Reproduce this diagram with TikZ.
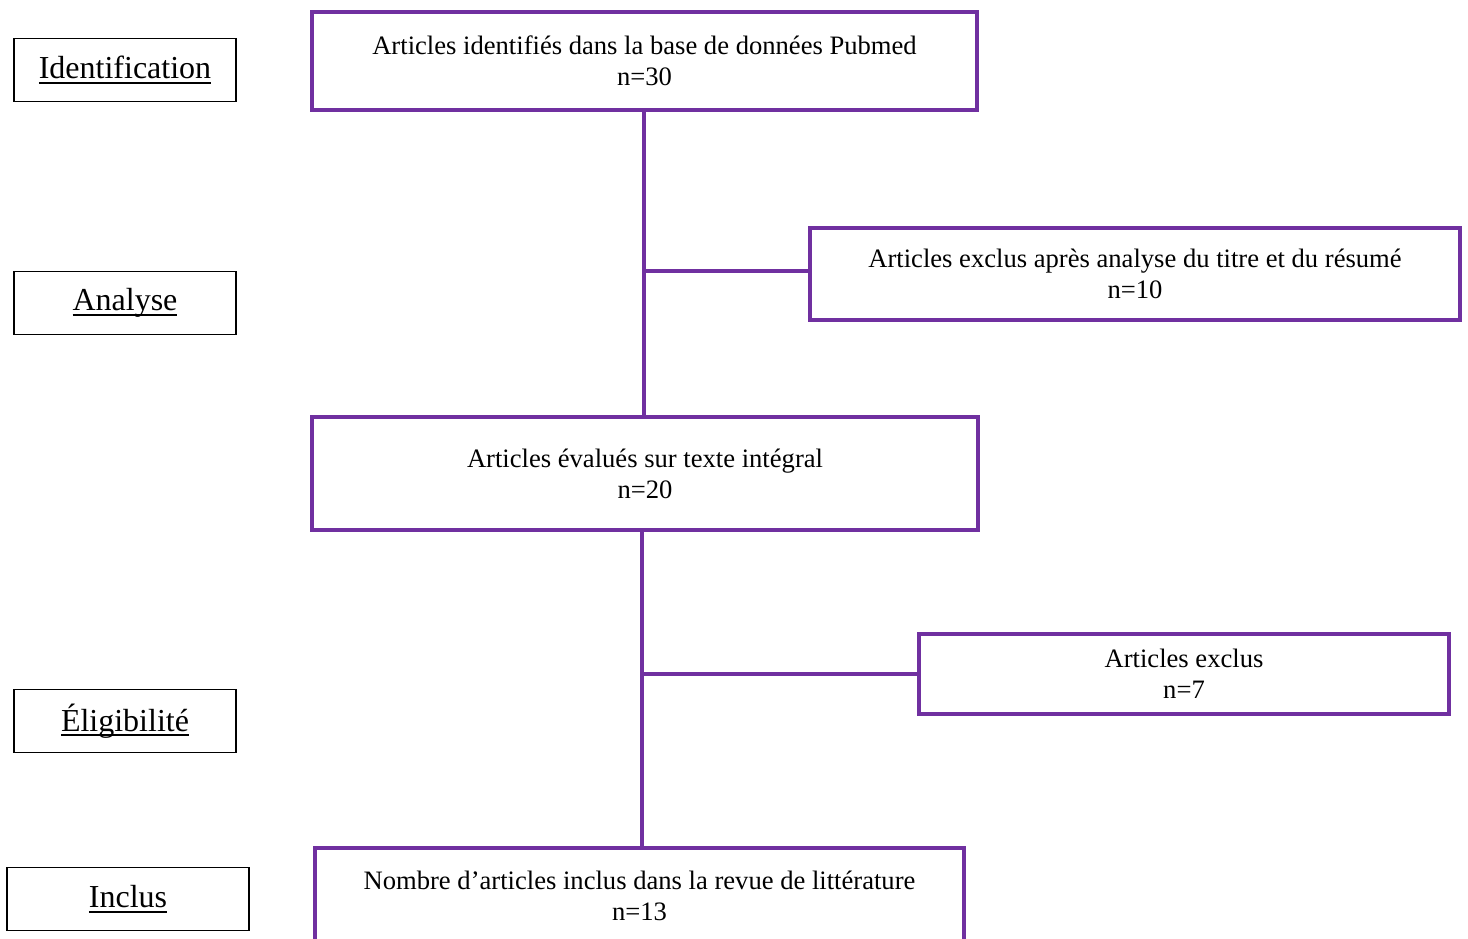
\documentclass[tikz,border=0pt]{standalone}
\usepackage{fontspec}
\setmainfont{Liberation Serif}
\definecolor{vio}{HTML}{7030A0}
\newcommand\myul[1]{\leavevmode\setbox0=\hbox{#1}\rlap{\rule[-5pt]{\wd0}{2pt}}\box0}
\tikzset{
  labbox/.style={draw=black, line width=1.3pt, inner sep=0pt, font=\fontsize{32}{38}\selectfont},
  pbox/.style={draw=vio, line width=3.5pt, inner sep=0pt, align=center, font=\fontsize{26.6}{30.8}\selectfont},
  conn/.style={draw=vio, line width=3.5pt}
}
\begin{document}
\begin{tikzpicture}[x=1pt,y=-1pt]
\useasboundingbox (0,0) rectangle (1468,938);
\clip (0,0) rectangle (1468,938);
% stage labels
\node[labbox, minimum width=222pt, minimum height=63pt] (id) at (125,70) {\myul{Identification}};
\node[labbox, minimum width=222pt, minimum height=63pt] (an) at (125,303) {\raisebox{-2pt}{\myul{Analyse}}};
\node[labbox, minimum width=222pt, minimum height=63pt] (el) at (125,721) {\myul{Éligibilité}};
\node[labbox, minimum width=242pt, minimum height=63pt] (inc) at (128,899) {\raisebox{-1pt}{\myul{Inclus}}};
% flow boxes
\node[pbox, minimum width=665pt, minimum height=98pt] (b1) at (644.5,61) {Articles identifiés dans la base de données Pubmed\\n=30};
\node[pbox, minimum width=650pt, minimum height=92pt] (b2) at (1135,274) {Articles exclus après analyse du titre et du résumé\\n=10};
\node[pbox, minimum width=666pt, minimum height=113pt] (b3) at (645,473.5) {Articles évalués sur texte intégral\\n=20};
\node[pbox, minimum width=530pt, minimum height=80pt] (b4) at (1184,674) {Articles exclus\\n=7};
\node[pbox, minimum width=649pt, minimum height=95pt] (b5) at (639.5,895.5) {Nombre d’articles inclus dans la revue de littérature\\n=13};
% connectors
\coordinate (j1) at (644,271);
\coordinate (j2) at (642,674);
\draw[conn] (b1.south -| j1) -- (b3.north -| j1);
\draw[conn] (j1) -- (j1 -| b2.west);
\draw[conn] (b3.south -| j2) -- (b5.north -| j2);
\draw[conn] (j2) -- (j2 -| b4.west);
\end{tikzpicture}
\end{document}
